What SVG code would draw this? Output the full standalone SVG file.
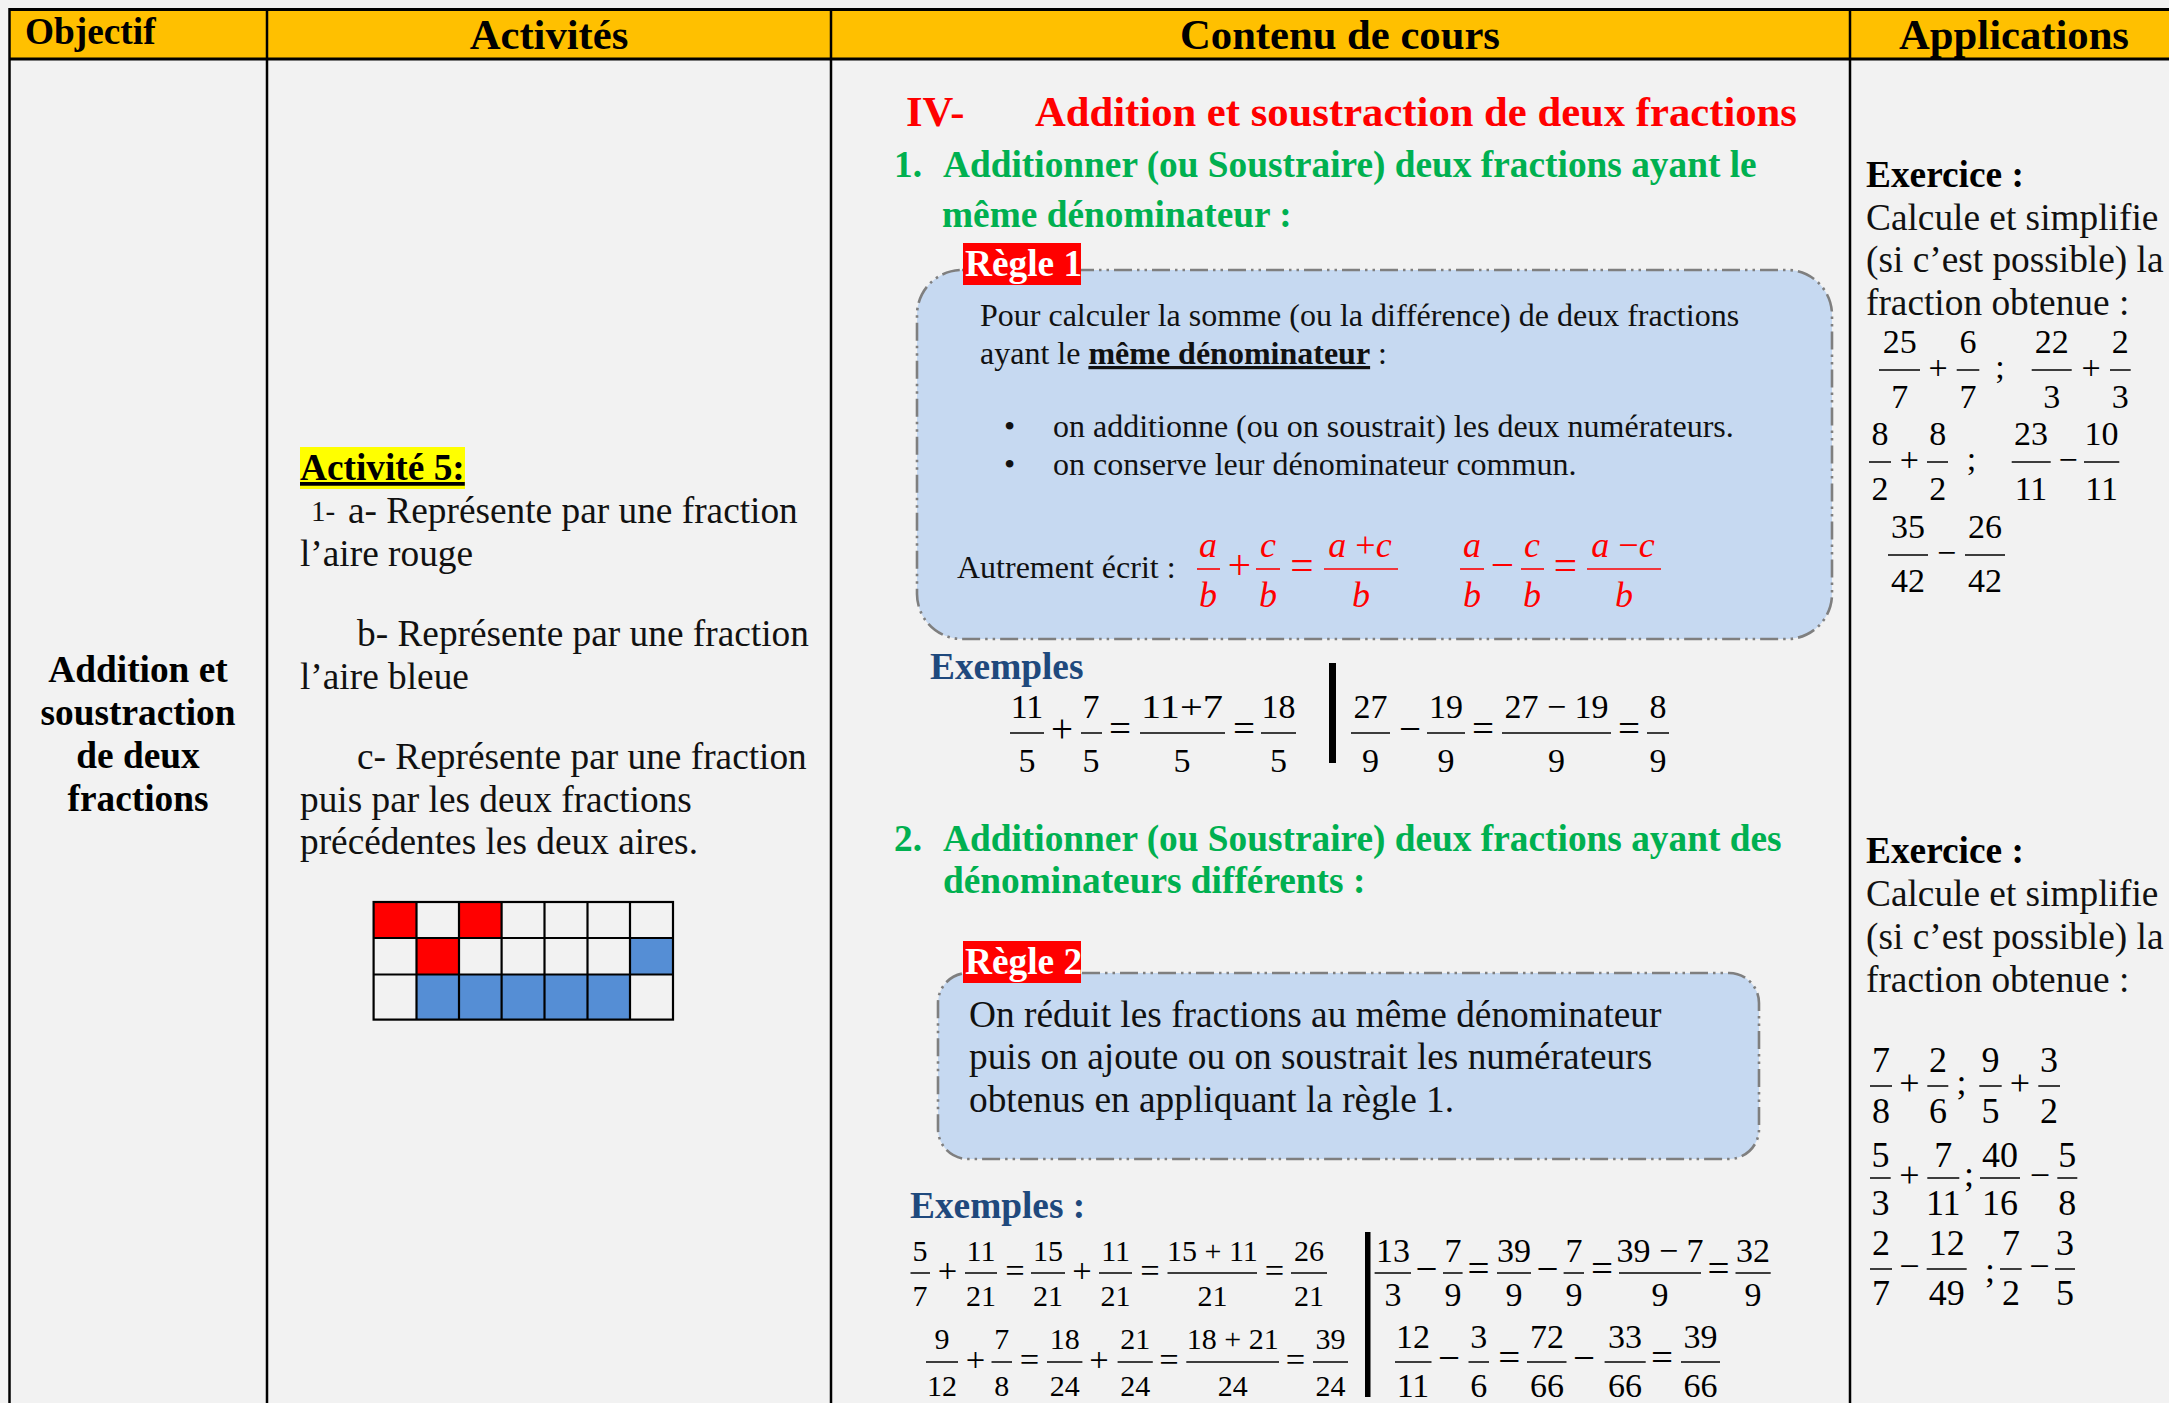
<svg xmlns="http://www.w3.org/2000/svg" width="2169" height="1403" viewBox="0 0 2169 1403">
<style>
text { font-family: "Liberation Serif", "Times New Roman", serif; fill:#000; }
.hd { font-size:42.67px; font-weight:bold; }
.b37 { font-size:37.33px; font-weight:bold; }
.r37 { font-size:37.33px; fill:#111; }
.r32 { font-size:32px; fill:#111; }
.red { fill:#ff0000; }
.grn { fill:#00b050; }
.blu { fill:#1f497d; }
.wht { fill:#ffffff; }
.m { text-anchor:middle; }
.op { font-size:1.15em; }
.fb { stroke:#000; stroke-width:1.5; }
.rb { stroke:#ff0000; stroke-width:1.6; }
.grid { stroke:#000; stroke-width:2.2; fill:none; }
.box { fill:#c6d9f1; stroke:#7f7f7f; stroke-width:2.6; stroke-dasharray:18 5 2.5 5 2.5 5; }
.tl { stroke:#000; stroke-width:2.5; }
.f30 { font-size:30px; }
.f33 { font-size:33px; }
.f34 { font-size:34px; }
.f36 { font-size:36px; }
.it { font-style:italic; }
</style>
<rect x="0" y="0" width="2169" height="1403" fill="#f2f2f2"/>

<g id="table">
  <rect x="9" y="9" width="2160" height="50" fill="#ffc000"/>
  <line class="tl" x1="9" y1="9.5" x2="2169" y2="9.5" style="stroke-width:3"/>
  <line class="tl" x1="9" y1="59" x2="2169" y2="59" style="stroke-width:3"/>
  <line class="tl" x1="9.5" y1="8" x2="9.5" y2="1403"/>
  <line class="tl" x1="267" y1="8" x2="267" y2="1403"/>
  <line class="tl" x1="831" y1="8" x2="831" y2="1403"/>
  <line class="tl" x1="1850" y1="8" x2="1850" y2="1403"/>
</g>

<g id="header">
  <text class="b37" x="25" y="44">Objectif</text>
  <text class="hd m" x="549" y="49">Activités</text>
  <text class="hd m" x="1340" y="49">Contenu de cours</text>
  <text class="hd m" x="2014" y="49">Applications</text>
</g>

<g id="objectif">
  <text class="b37 m" x="138" y="682">Addition et</text>
  <text class="b37 m" x="138" y="725">soustraction</text>
  <text class="b37 m" x="138" y="768">de deux</text>
  <text class="b37 m" x="138" y="811">fractions</text>
</g>

<g id="activites">
  <rect x="300" y="447" width="165" height="42" fill="#ffff00"/>
  <text class="b37" x="300" y="480" text-decoration="underline">Activité 5:</text>
  <text x="311" y="521"><tspan style="font-size:29px;fill:#111">1-</tspan></text>
  <text class="r37" x="348" y="523">a- Représente par une fraction</text>
  <text class="r37" x="300" y="566">l’aire rouge</text>
  <text class="r37" x="357" y="646">b- Représente par une fraction</text>
  <text class="r37" x="300" y="689">l’aire bleue</text>
  <text class="r37" x="357" y="769">c- Représente par une fraction</text>
  <text class="r37" x="300" y="812">puis par les deux fractions</text>
  <text class="r37" x="300" y="854">précédentes les deux aires.</text>
  <g id="grille">
    <rect x="373.6" y="902" width="42.9" height="36" fill="#ff0000"/>
    <rect x="459" y="902" width="42.6" height="36" fill="#ff0000"/>
    <rect x="416.5" y="938" width="42.5" height="36.5" fill="#ff0000"/>
    <rect x="630" y="938" width="43" height="36.5" fill="#558ed5"/>
    <rect x="416.5" y="974.5" width="213.5" height="45" fill="#558ed5"/>
    <rect class="grid" x="373.6" y="902" width="299.4" height="117.6"/>
    <line class="grid" x1="373.6" y1="938" x2="673" y2="938"/>
    <line class="grid" x1="373.6" y1="974.5" x2="673" y2="974.5"/>
    <line class="grid" x1="416.5" y1="902" x2="416.5" y2="1019.6"/>
    <line class="grid" x1="459" y1="902" x2="459" y2="1019.6"/>
    <line class="grid" x1="501.6" y1="902" x2="501.6" y2="1019.6"/>
    <line class="grid" x1="544.5" y1="902" x2="544.5" y2="1019.6"/>
    <line class="grid" x1="587.5" y1="902" x2="587.5" y2="1019.6"/>
    <line class="grid" x1="630" y1="902" x2="630" y2="1019.6"/>
  </g>
</g>

<g id="contenu">
  <text class="hd red" x="906" y="126">IV-</text>
  <text class="hd red" x="1035" y="126">Addition et soustraction de deux fractions</text>
  <text class="b37 grn" x="894" y="177">1.</text>
  <text class="b37 grn" x="943" y="177">Additionner (ou Soustraire) deux fractions ayant le</text>
  <text class="b37 grn" x="942" y="227">même dénominateur :</text>

  <g id="regle1">
    <rect class="box" x="917" y="270" width="915" height="369" rx="45" ry="45"/>
    <rect x="963" y="243" width="118" height="42" fill="#ff0000"/>
    <text class="b37 wht" x="965" y="276">Règle 1</text>
    <text class="r32" x="980" y="326">Pour calculer la somme (ou la différence) de deux fractions</text>
    <text class="r32" x="980" y="364">ayant le <tspan style="font-weight:bold" text-decoration="underline">même dénominateur</tspan> :</text>
    <text class="r32" x="1004" y="437">•</text>
    <text class="r32" x="1053" y="437">on additionne (ou on soustrait) les deux numérateurs.</text>
    <text class="r32" x="1004" y="475">•</text>
    <text class="r32" x="1053" y="475">on conserve leur dénominateur commun.</text>
    <text class="r32" x="957" y="578">Autrement écrit :</text>
    <g id="formule1" class="f36">
      <text class="red it m" x="1208" y="557">a</text><line class="rb" x1="1197" y1="569" x2="1220" y2="569"/><text class="red it m" x="1208" y="607">b</text>
      <text class="red m op" x="1239.5" y="579">+</text>
      <text class="red it m" x="1268" y="557">c</text><line class="rb" x1="1256" y1="569" x2="1280" y2="569"/><text class="red it m" x="1268" y="607">b</text>
      <text class="red m op" x="1302" y="579">=</text>
      <text class="red it m" x="1360" y="557">a <tspan style="font-style:normal">+</tspan>c</text><line class="rb" x1="1324" y1="569" x2="1398" y2="569"/><text class="red it m" x="1361" y="607">b</text>
      <text class="red it m" x="1472" y="557">a</text><line class="rb" x1="1460" y1="569" x2="1484" y2="569"/><text class="red it m" x="1472" y="607">b</text>
      <text class="red m op" x="1502.5" y="579">−</text>
      <text class="red it m" x="1532" y="557">c</text><line class="rb" x1="1521" y1="569" x2="1544" y2="569"/><text class="red it m" x="1532" y="607">b</text>
      <text class="red m op" x="1565.5" y="579">=</text>
      <text class="red it m" x="1623" y="557">a <tspan style="font-style:normal">−</tspan>c</text><line class="rb" x1="1587" y1="569" x2="1661" y2="569"/><text class="red it m" x="1624" y="607">b</text>
    </g>
  </g>

  <text class="b37 blu" x="930" y="679">Exemples</text>
  <g id="exemples1" class="f34">
    <text class="m" x="1027" y="718">11</text><line class="fb" x1="1010" y1="733" x2="1044" y2="733"/><text class="m" x="1027" y="772">5</text>
    <text class="m op" x="1062" y="742">+</text>
    <text class="m" x="1091" y="718">7</text><line class="fb" x1="1081" y1="733" x2="1102" y2="733"/><text class="m" x="1091" y="772">5</text>
    <text class="m op" x="1120" y="742">=</text>
    <text class="m" x="1182" y="718" textLength="82" lengthAdjust="spacingAndGlyphs">11+7</text><line class="fb" x1="1140" y1="733" x2="1225" y2="733"/><text class="m" x="1182" y="772">5</text>
    <text class="m op" x="1244" y="742">=</text>
    <text class="m" x="1278.5" y="718">18</text><line class="fb" x1="1261" y1="733" x2="1296" y2="733"/><text class="m" x="1278.5" y="772">5</text>
    <rect x="1329" y="663" width="7" height="100" fill="#000"/>
    <text class="m" x="1370.5" y="718">27</text><line class="fb" x1="1351" y1="733" x2="1390" y2="733"/><text class="m" x="1370.5" y="772">9</text>
    <text class="m op" x="1410" y="742">−</text>
    <text class="m" x="1446" y="718">19</text><line class="fb" x1="1427" y1="733" x2="1465" y2="733"/><text class="m" x="1446" y="772">9</text>
    <text class="m op" x="1483" y="742">=</text>
    <text class="m" x="1556.5" y="718">27 − 19</text><line class="fb" x1="1502" y1="733" x2="1611" y2="733"/><text class="m" x="1556.5" y="772">9</text>
    <text class="m op" x="1629" y="742">=</text>
    <text class="m" x="1658" y="718">8</text><line class="fb" x1="1647" y1="733" x2="1669" y2="733"/><text class="m" x="1658" y="772">9</text>
  </g>

  <text class="b37 grn" x="894" y="851">2.</text>
  <text class="b37 grn" x="943" y="851">Additionner (ou Soustraire) deux fractions ayant des</text>
  <text class="b37 grn" x="943" y="893">dénominateurs différents :</text>

  <g id="regle2">
    <rect class="box" x="938" y="973" width="821" height="186" rx="30" ry="30"/>
    <rect x="963" y="941" width="118" height="42" fill="#ff0000"/>
    <text class="b37 wht" x="965" y="974">Règle 2</text>
    <text class="r37" x="969" y="1027">On réduit les fractions au même dénominateur</text>
    <text class="r37" x="969" y="1069">puis on ajoute ou on soustrait les numérateurs</text>
    <text class="r37" x="969" y="1112">obtenus en appliquant la règle 1.</text>
  </g>

  <text class="b37 blu" x="910" y="1218">Exemples :</text>
  <g id="exemples2">
    <g class="f30">
      <text class="m" x="920" y="1261">5</text><line class="fb" x1="910.5" y1="1273" x2="930" y2="1273"/><text class="m" x="920" y="1306">7</text>
      <text class="m op" x="947.5" y="1282">+</text>
      <text class="m" x="981" y="1261">11</text><line class="fb" x1="965" y1="1273" x2="997" y2="1273"/><text class="m" x="981" y="1306">21</text>
      <text class="m op" x="1015" y="1282">=</text>
      <text class="m" x="1048" y="1261">15</text><line class="fb" x1="1031" y1="1273" x2="1065" y2="1273"/><text class="m" x="1048" y="1306">21</text>
      <text class="m op" x="1082" y="1282">+</text>
      <text class="m" x="1115.6" y="1261">11</text><line class="fb" x1="1099" y1="1273" x2="1132" y2="1273"/><text class="m" x="1115.6" y="1306">21</text>
      <text class="m op" x="1150" y="1282">=</text>
      <text class="m" x="1212.4" y="1261">15 + 11</text><line class="fb" x1="1167.5" y1="1273" x2="1257" y2="1273"/><text class="m" x="1212.4" y="1306">21</text>
      <text class="m op" x="1274.5" y="1282">=</text>
      <text class="m" x="1309" y="1261">26</text><line class="fb" x1="1291" y1="1273" x2="1327" y2="1273"/><text class="m" x="1309" y="1306">21</text>

      <text class="m" x="942" y="1349">9</text><line class="fb" x1="926" y1="1362" x2="958" y2="1362"/><text class="m" x="942" y="1396">12</text>
      <text class="m op" x="975.6" y="1371">+</text>
      <text class="m" x="1001.8" y="1349">7</text><line class="fb" x1="991.5" y1="1362" x2="1012" y2="1362"/><text class="m" x="1001.8" y="1396">8</text>
      <text class="m op" x="1029.6" y="1371">=</text>
      <text class="m" x="1064.7" y="1349">18</text><line class="fb" x1="1047" y1="1362" x2="1082.4" y2="1362"/><text class="m" x="1064.7" y="1396">24</text>
      <text class="m op" x="1099" y="1371">+</text>
      <text class="m" x="1135.2" y="1349">21</text><line class="fb" x1="1117.6" y1="1362" x2="1152.8" y2="1362"/><text class="m" x="1135.2" y="1396">24</text>
      <text class="m op" x="1169" y="1371">=</text>
      <text class="m" x="1232.7" y="1349">18 + 21</text><line class="fb" x1="1186.3" y1="1362" x2="1279" y2="1362"/><text class="m" x="1232.7" y="1396">24</text>
      <text class="m op" x="1295.4" y="1371">=</text>
      <text class="m" x="1330.6" y="1349">39</text><line class="fb" x1="1313" y1="1362" x2="1348" y2="1362"/><text class="m" x="1330.6" y="1396">24</text>
    </g>
    <rect x="1365" y="1232" width="5.5" height="165" fill="#000"/>
    <g class="f34">
      <text class="m" x="1393" y="1262">13</text><line class="fb" x1="1374.6" y1="1273" x2="1411" y2="1273"/><text class="m" x="1393" y="1306">3</text>
      <text class="m op" x="1426.5" y="1282">−</text>
      <text class="m" x="1453" y="1262">7</text><line class="fb" x1="1443" y1="1273" x2="1462.6" y2="1273"/><text class="m" x="1453" y="1306">9</text>
      <text class="m op" x="1478.5" y="1282">=</text>
      <text class="m" x="1514" y="1262">39</text><line class="fb" x1="1497" y1="1273" x2="1531" y2="1273"/><text class="m" x="1514" y="1306">9</text>
      <text class="m op" x="1547.4" y="1282">−</text>
      <text class="m" x="1574" y="1262">7</text><line class="fb" x1="1563.6" y1="1273" x2="1584" y2="1273"/><text class="m" x="1574" y="1306">9</text>
      <text class="m op" x="1602" y="1282">=</text>
      <text class="m" x="1660" y="1262">39 − 7</text><line class="fb" x1="1619" y1="1273" x2="1701" y2="1273"/><text class="m" x="1660" y="1306">9</text>
      <text class="m op" x="1718.5" y="1282">=</text>
      <text class="m" x="1753" y="1262">32</text><line class="fb" x1="1735.5" y1="1273" x2="1770.7" y2="1273"/><text class="m" x="1753" y="1306">9</text>

      <text class="m" x="1413" y="1348">12</text><line class="fb" x1="1395" y1="1362" x2="1431.5" y2="1362"/><text class="m" x="1413" y="1397">11</text>
      <text class="m op" x="1449" y="1371">−</text>
      <text class="m" x="1478.8" y="1348">3</text><line class="fb" x1="1468.5" y1="1362" x2="1489" y2="1362"/><text class="m" x="1478.8" y="1397">6</text>
      <text class="m op" x="1509.3" y="1371">=</text>
      <text class="m" x="1547" y="1348">72</text><line class="fb" x1="1527" y1="1362" x2="1566.5" y2="1362"/><text class="m" x="1547" y="1397">66</text>
      <text class="m op" x="1584" y="1371">−</text>
      <text class="m" x="1625" y="1348">33</text><line class="fb" x1="1604.6" y1="1362" x2="1645.7" y2="1362"/><text class="m" x="1625" y="1397">66</text>
      <text class="m op" x="1662" y="1371">=</text>
      <text class="m" x="1700.6" y="1348">39</text><line class="fb" x1="1681" y1="1362" x2="1720" y2="1362"/><text class="m" x="1700.6" y="1397">66</text>
    </g>
  </g>
</g>

<g id="applications">
  <g id="exercice1">
    <text class="b37" x="1866" y="187">Exercice :</text>
    <text class="r37" x="1866" y="230">Calcule et simplifie</text>
    <text class="r37" x="1866" y="272">(si c’est possible) la</text>
    <text class="r37" x="1866" y="315">fraction obtenue :</text>
    <g class="f34">
      <text class="m" x="1899.7" y="353">25</text><line class="fb" x1="1879" y1="370" x2="1920" y2="370"/><text class="m" x="1899.7" y="408">7</text>
      <text class="m" x="1938" y="379">+</text>
      <text class="m" x="1968" y="353">6</text><line class="fb" x1="1956.7" y1="370" x2="1979.3" y2="370"/><text class="m" x="1968" y="408">7</text>
      <text class="m" x="2000" y="378">;</text>
      <text class="m" x="2051.7" y="353">22</text><line class="fb" x1="2031.7" y1="370" x2="2071.7" y2="370"/><text class="m" x="2051.7" y="408">3</text>
      <text class="m" x="2091" y="379">+</text>
      <text class="m" x="2120.3" y="353">2</text><line class="fb" x1="2110" y1="370" x2="2130.7" y2="370"/><text class="m" x="2120.3" y="408">3</text>

      <text class="m" x="1880" y="445">8</text><line class="fb" x1="1869" y1="462" x2="1891" y2="462"/><text class="m" x="1880" y="500">2</text>
      <text class="m" x="1909.3" y="471">+</text>
      <text class="m" x="1937.8" y="445">8</text><line class="fb" x1="1927" y1="462" x2="1948" y2="462"/><text class="m" x="1937.8" y="500">2</text>
      <text class="m" x="1971.5" y="470">;</text>
      <text class="m" x="2031" y="445">23</text><line class="fb" x1="2011.7" y1="462" x2="2050.7" y2="462"/><text class="m" x="2031" y="500">11</text>
      <text class="m" x="2068" y="471">−</text>
      <text class="m" x="2101.6" y="445">10</text><line class="fb" x1="2084" y1="462" x2="2119.3" y2="462"/><text class="m" x="2101.6" y="500">11</text>

      <text class="m" x="1908" y="538">35</text><line class="fb" x1="1888" y1="555" x2="1928" y2="555"/><text class="m" x="1908" y="592">42</text>
      <text class="m" x="1946.7" y="564">−</text>
      <text class="m" x="1985" y="538">26</text><line class="fb" x1="1965" y1="555" x2="2005" y2="555"/><text class="m" x="1985" y="592">42</text>
    </g>
  </g>
  <g id="exercice2">
    <text class="b37" x="1866" y="863">Exercice :</text>
    <text class="r37" x="1866" y="906">Calcule et simplifie</text>
    <text class="r37" x="1866" y="949">(si c’est possible) la</text>
    <text class="r37" x="1866" y="992">fraction obtenue :</text>
    <g class="f36">
      <text class="m" x="1881" y="1072">7</text><line class="fb" x1="1870" y1="1086" x2="1892" y2="1086"/><text class="m" x="1881" y="1123">8</text>
      <text class="m" x="1909.3" y="1095">+</text>
      <text class="m" x="1938" y="1072">2</text><line class="fb" x1="1927.3" y1="1086" x2="1948.3" y2="1086"/><text class="m" x="1938" y="1123">6</text>
      <text class="m" x="1961.5" y="1094">;</text>
      <text class="m" x="1990.5" y="1072">9</text><line class="fb" x1="1979.3" y1="1086" x2="2001.7" y2="1086"/><text class="m" x="1990.5" y="1123">5</text>
      <text class="m" x="2020" y="1095">+</text>
      <text class="m" x="2049" y="1072">3</text><line class="fb" x1="2038.3" y1="1086" x2="2060" y2="1086"/><text class="m" x="2049" y="1123">2</text>

      <text class="m" x="1880.4" y="1167">5</text><line class="fb" x1="1870" y1="1178" x2="1890.7" y2="1178"/><text class="m" x="1880.4" y="1215">3</text>
      <text class="m" x="1909.3" y="1187">+</text>
      <text class="m" x="1943.3" y="1167">7</text><line class="fb" x1="1927.3" y1="1178" x2="1959.3" y2="1178"/><text class="m" x="1943.3" y="1215">11</text>
      <text class="m" x="1969" y="1186">;</text>
      <text class="m" x="2000" y="1167">40</text><line class="fb" x1="1980" y1="1178" x2="2020" y2="1178"/><text class="m" x="2000" y="1215">16</text>
      <text class="m" x="2040" y="1187">−</text>
      <text class="m" x="2067.3" y="1167">5</text><line class="fb" x1="2057.3" y1="1178" x2="2077.3" y2="1178"/><text class="m" x="2067.3" y="1215">8</text>

      <text class="m" x="1881" y="1255">2</text><line class="fb" x1="1870" y1="1269" x2="1892" y2="1269"/><text class="m" x="1881" y="1305">7</text>
      <text class="m" x="1909.3" y="1278">−</text>
      <text class="m" x="1946.7" y="1255">12</text><line class="fb" x1="1926.7" y1="1269" x2="1966.7" y2="1269"/><text class="m" x="1946.7" y="1305">49</text>
      <text class="m" x="1990" y="1282">;</text>
      <text class="m" x="2011" y="1255">7</text><line class="fb" x1="2000" y1="1269" x2="2021.7" y2="1269"/><text class="m" x="2011" y="1305">2</text>
      <text class="m" x="2039.3" y="1278">−</text>
      <text class="m" x="2065" y="1255">3</text><line class="fb" x1="2055" y1="1269" x2="2075" y2="1269"/><text class="m" x="2065" y="1305">5</text>
    </g>
  </g>
</g>
</svg>
